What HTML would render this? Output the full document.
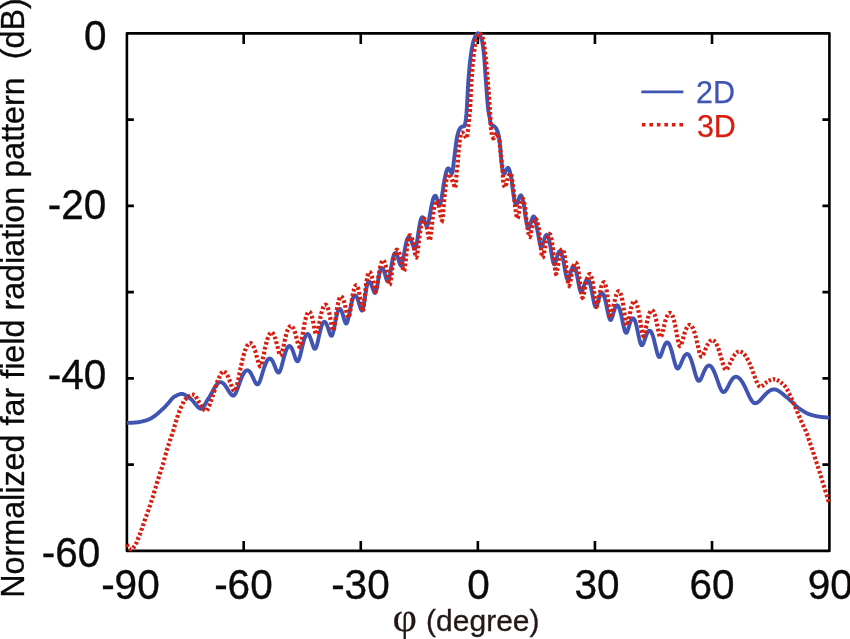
<!DOCTYPE html>
<html><head><meta charset="utf-8"><title>Far field radiation pattern</title>
<style>
html,body{margin:0;padding:0;background:#fff;}
body{width:850px;height:639px;overflow:hidden;}
svg{display:block;will-change:transform;}
text{font-family:"Liberation Sans",sans-serif;fill:#231815;}
.tk text{font-size:40.5px;fill:#0c0a09;stroke:#0c0a09;stroke-width:0.35px;}
.ttl{font-size:32.3px;fill:#0c0a09;stroke:#0c0a09;stroke-width:0.3px;}
</style></head><body>
<svg width="850" height="639" viewBox="0 0 850 639">
<rect x="0" y="0" width="850" height="639" fill="#fff"/>
<g fill="none" stroke="#000" stroke-width="2.6">
<rect x="126.9" y="33.4" width="702.50" height="517.50" stroke-linejoin="round"/>
<path d="M243.68,33.40V43.90M243.68,550.90V541.00M126.90,119.65H133.90M829.40,119.65H822.40M360.77,33.40V43.90M360.77,550.90V541.00M126.90,205.90H133.90M829.40,205.90H822.40M477.85,33.40V43.90M477.85,550.90V541.00M126.90,292.15H133.90M829.40,292.15H822.40M594.93,33.40V43.90M594.93,550.90V541.00M126.90,378.40H133.90M829.40,378.40H822.40M712.02,33.40V43.90M712.02,550.90V541.00M126.90,464.65H133.90M829.40,464.65H822.40"/>
</g>
<path d="M126.9,422.9 L127.4,422.9 L127.9,422.9 L128.4,422.9 L128.9,422.9 L129.4,422.9 L129.9,422.8 L130.4,422.8 L130.9,422.8 L131.4,422.8 L131.9,422.7 L132.4,422.7 L132.9,422.7 L133.4,422.6 L133.9,422.6 L134.4,422.6 L134.9,422.5 L135.4,422.5 L135.9,422.5 L136.4,422.4 L136.9,422.4 L137.4,422.3 L137.9,422.2 L138.4,422.2 L138.9,422.1 L139.4,422.0 L139.9,421.9 L140.4,421.8 L140.9,421.7 L141.4,421.6 L141.9,421.5 L142.4,421.4 L142.9,421.3 L143.4,421.1 L143.9,421.0 L144.4,420.9 L144.9,420.8 L145.4,420.6 L145.9,420.5 L146.4,420.3 L146.9,420.2 L147.4,420.0 L147.9,419.8 L148.4,419.6 L148.9,419.4 L149.4,419.1 L149.9,418.9 L150.4,418.7 L150.9,418.4 L151.4,418.1 L151.9,417.8 L152.4,417.5 L152.9,417.2 L153.4,416.8 L153.9,416.5 L154.4,416.2 L154.9,415.8 L155.4,415.4 L155.9,415.0 L156.4,414.6 L156.9,414.2 L157.4,413.8 L157.9,413.4 L158.4,412.9 L158.9,412.5 L159.4,412.1 L159.9,411.6 L160.4,411.2 L160.9,410.7 L161.4,410.2 L161.9,409.7 L162.4,409.3 L162.9,408.8 L163.4,408.3 L163.9,407.8 L164.4,407.3 L164.9,406.8 L165.4,406.3 L165.9,405.8 L166.4,405.3 L166.9,404.7 L167.4,404.2 L167.9,403.7 L168.4,403.1 L168.9,402.5 L169.4,401.9 L169.9,401.3 L170.4,400.6 L170.9,400.0 L171.4,399.4 L171.9,398.8 L172.4,398.3 L172.9,397.8 L173.4,397.4 L173.9,397.0 L174.4,396.7 L174.9,396.4 L175.4,396.1 L175.9,395.9 L176.4,395.6 L176.9,395.3 L177.4,395.1 L177.9,394.9 L178.4,394.7 L178.9,394.5 L179.4,394.3 L179.9,394.2 L180.4,394.0 L180.9,394.0 L181.4,393.9 L181.9,393.9 L182.4,393.9 L182.9,394.0 L183.4,394.2 L183.9,394.3 L184.4,394.6 L184.9,394.8 L185.4,395.1 L185.9,395.4 L186.4,395.7 L186.9,396.1 L187.4,396.4 L187.9,396.8 L188.4,397.2 L188.9,397.6 L189.4,397.9 L189.9,398.3 L190.4,398.7 L190.9,399.0 L191.4,399.4 L191.9,399.9 L192.4,400.4 L192.9,401.0 L193.4,401.6 L193.9,402.2 L194.4,402.8 L194.9,403.5 L195.4,404.1 L195.9,404.7 L196.4,405.3 L196.9,405.9 L197.4,406.5 L197.9,407.0 L198.4,407.5 L198.9,407.9 L199.4,408.2 L199.9,408.5 L200.4,408.7 L200.9,408.8 L201.4,408.8 L201.9,408.6 L202.4,408.3 L202.9,407.8 L203.4,407.1 L203.9,406.4 L204.4,405.6 L204.9,404.7 L205.4,403.7 L205.9,402.8 L206.4,401.8 L206.9,400.9 L207.4,400.0 L207.9,399.2 L208.4,398.5 L208.9,397.8 L209.4,397.0 L209.9,396.1 L210.4,395.3 L210.9,394.4 L211.4,393.5 L211.9,392.6 L212.4,391.6 L212.9,390.7 L213.4,389.8 L213.9,388.9 L214.4,388.1 L214.9,387.2 L215.4,386.4 L215.9,385.7 L216.4,385.0 L216.9,384.3 L217.4,383.8 L217.9,383.3 L218.4,382.9 L218.9,382.5 L219.4,382.3 L219.9,382.1 L220.4,382.1 L220.9,382.2 L221.4,382.3 L221.9,382.5 L222.4,382.8 L222.9,383.1 L223.4,383.5 L223.9,384.0 L224.4,384.6 L224.9,385.2 L225.4,385.8 L225.9,386.5 L226.4,387.3 L226.9,388.1 L227.4,388.9 L227.9,389.7 L228.4,390.6 L228.9,391.4 L229.4,392.2 L229.9,392.9 L230.4,393.6 L230.9,394.2 L231.4,394.7 L231.9,395.1 L232.4,395.4 L232.9,395.6 L233.4,395.6 L233.9,395.4 L234.4,395.0 L234.9,394.4 L235.4,393.6 L235.9,392.7 L236.4,391.6 L236.9,390.4 L237.4,389.1 L237.9,387.8 L238.4,386.4 L238.9,385.0 L239.4,383.6 L239.9,382.2 L240.4,380.8 L240.9,379.5 L241.4,378.2 L241.9,377.0 L242.4,375.9 L242.9,374.9 L243.4,373.9 L243.9,373.1 L244.4,372.4 L244.9,371.7 L245.4,371.2 L245.9,370.8 L246.4,370.5 L246.9,370.4 L247.4,370.3 L247.9,370.4 L248.4,370.6 L248.9,370.9 L249.4,371.3 L249.9,371.9 L250.4,372.6 L250.9,373.4 L251.4,374.3 L251.9,375.3 L252.4,376.3 L252.9,377.4 L253.4,378.5 L253.9,379.6 L254.4,380.7 L254.9,381.7 L255.4,382.6 L255.9,383.4 L256.4,383.9 L256.9,384.3 L257.4,384.4 L257.9,384.3 L258.4,383.8 L258.9,383.1 L259.4,382.2 L259.9,381.0 L260.4,379.7 L260.9,378.2 L261.4,376.6 L261.9,375.0 L262.4,373.3 L262.9,371.7 L263.4,370.0 L263.9,368.4 L264.4,366.9 L264.9,365.5 L265.4,364.2 L265.9,363.0 L266.4,361.9 L266.9,360.9 L267.4,360.2 L267.9,359.5 L268.4,359.0 L268.9,358.7 L269.4,358.5 L269.9,358.5 L270.4,358.7 L270.9,359.0 L271.4,359.5 L271.9,360.1 L272.4,360.9 L272.9,361.8 L273.4,362.9 L273.9,364.0 L274.4,365.2 L274.9,366.5 L275.4,367.8 L275.9,369.0 L276.4,370.1 L276.9,371.1 L277.4,371.9 L277.9,372.4 L278.4,372.6 L278.9,372.5 L279.4,372.0 L279.9,371.2 L280.4,370.0 L280.9,368.6 L281.4,367.0 L281.9,365.2 L282.4,363.3 L282.9,361.3 L283.4,359.4 L283.9,357.5 L284.4,355.7 L284.9,354.0 L285.4,352.4 L285.9,350.9 L286.4,349.7 L286.9,348.6 L287.4,347.6 L287.9,346.9 L288.4,346.4 L288.9,346.1 L289.4,346.0 L289.9,346.1 L290.4,346.4 L290.9,347.0 L291.4,347.7 L291.9,348.6 L292.4,349.7 L292.9,351.0 L293.4,352.4 L293.9,353.8 L294.4,355.3 L294.9,356.8 L295.4,358.2 L295.9,359.4 L296.4,360.4 L296.9,361.0 L297.4,361.3 L297.9,361.2 L298.4,360.6 L298.9,359.6 L299.4,358.2 L299.9,356.6 L300.4,354.7 L300.9,352.6 L301.4,350.5 L301.9,348.4 L302.4,346.2 L302.9,344.2 L303.4,342.3 L303.9,340.5 L304.4,338.9 L304.9,337.5 L305.4,336.4 L305.9,335.4 L306.4,334.7 L306.9,334.2 L307.4,334.0 L307.9,334.0 L308.4,334.3 L308.9,334.9 L309.4,335.6 L309.9,336.7 L310.4,337.9 L310.9,339.3 L311.4,340.8 L311.9,342.4 L312.4,344.0 L312.9,345.6 L313.4,346.9 L313.9,348.0 L314.4,348.7 L314.9,348.9 L315.4,348.6 L315.9,347.9 L316.4,346.7 L316.9,345.1 L317.4,343.3 L317.9,341.2 L318.4,339.0 L318.9,336.7 L319.4,334.4 L319.9,332.3 L320.4,330.2 L320.9,328.3 L321.4,326.7 L321.9,325.2 L322.4,324.0 L322.9,323.0 L323.4,322.4 L323.9,321.9 L324.4,321.8 L324.9,321.9 L325.4,322.3 L325.9,323.0 L326.4,323.8 L326.9,324.9 L327.4,326.2 L327.9,327.6 L328.4,329.2 L328.9,330.8 L329.4,332.3 L329.9,333.7 L330.4,334.8 L330.9,335.6 L331.4,335.9 L331.9,335.7 L332.4,334.8 L332.9,333.4 L333.4,331.4 L333.9,329.1 L334.4,326.6 L334.9,324.0 L335.4,321.4 L335.9,318.8 L336.4,316.5 L336.9,314.5 L337.4,312.7 L337.9,311.2 L338.4,310.1 L338.9,309.3 L339.4,308.9 L339.9,308.8 L340.4,309.1 L340.9,309.7 L341.4,310.6 L341.9,311.8 L342.4,313.3 L342.9,314.9 L343.4,316.6 L343.9,318.4 L344.4,320.2 L344.9,321.6 L345.4,322.8 L345.9,323.4 L346.4,323.5 L346.9,322.9 L347.4,321.8 L347.9,320.2 L348.4,318.1 L348.9,315.8 L349.4,313.4 L349.9,310.8 L350.4,308.3 L350.9,305.9 L351.4,303.6 L351.9,301.5 L352.4,299.7 L352.9,298.2 L353.4,297.0 L353.9,296.1 L354.4,295.5 L354.9,295.3 L355.4,295.4 L355.9,295.8 L356.4,296.4 L356.9,297.3 L357.4,298.4 L357.9,299.8 L358.4,301.3 L358.9,303.0 L359.4,304.7 L359.9,306.4 L360.4,307.9 L360.9,309.2 L361.4,310.1 L361.9,310.6 L362.4,310.4 L362.9,309.3 L363.4,307.2 L363.9,304.5 L364.4,301.3 L364.9,297.9 L365.4,294.5 L365.9,291.4 L366.4,288.5 L366.9,286.0 L367.4,284.1 L367.9,282.7 L368.4,281.8 L368.9,281.5 L369.4,281.6 L369.9,282.1 L370.4,282.7 L370.9,283.6 L371.4,284.8 L371.9,286.1 L372.4,287.6 L372.9,289.0 L373.4,290.4 L373.9,291.6 L374.4,292.5 L374.9,293.0 L375.4,292.8 L375.9,291.8 L376.4,290.0 L376.9,287.6 L377.4,284.8 L377.9,281.9 L378.4,278.9 L378.9,276.2 L379.4,273.7 L379.9,271.6 L380.4,270.0 L380.9,268.8 L381.4,268.2 L381.9,268.0 L382.4,268.2 L382.9,268.8 L383.4,269.7 L383.9,270.9 L384.4,272.4 L384.9,274.0 L385.4,275.8 L385.9,277.6 L386.4,279.2 L386.9,280.4 L387.4,281.2 L387.9,281.4 L388.4,280.8 L388.9,279.4 L389.4,277.4 L389.9,274.8 L390.4,271.9 L390.9,268.9 L391.4,266.0 L391.9,263.1 L392.4,260.5 L392.9,258.2 L393.4,256.3 L393.9,254.8 L394.4,253.8 L394.9,253.1 L395.4,253.0 L395.9,253.3 L396.4,253.9 L396.9,254.8 L397.4,256.0 L397.9,257.5 L398.4,259.2 L398.9,260.9 L399.4,262.6 L399.9,264.0 L400.4,265.0 L400.9,265.5 L401.4,265.2 L401.9,264.2 L402.4,262.5 L402.9,260.3 L403.4,257.6 L403.9,254.7 L404.4,251.8 L404.9,249.0 L405.4,246.3 L405.9,243.9 L406.4,241.8 L406.9,240.0 L407.4,238.7 L407.9,237.8 L408.4,237.3 L408.9,237.2 L409.4,237.5 L409.9,238.0 L410.4,238.7 L410.9,239.7 L411.4,241.0 L411.9,242.3 L412.4,243.8 L412.9,245.2 L413.4,246.6 L413.9,247.8 L414.4,248.5 L414.9,248.9 L415.4,248.6 L415.9,247.3 L416.4,245.2 L416.9,242.4 L417.4,239.2 L417.9,235.8 L418.4,232.4 L418.9,229.1 L419.4,226.0 L419.9,223.3 L420.4,221.1 L420.9,219.3 L421.4,218.1 L421.9,217.4 L422.4,217.2 L422.9,217.5 L423.4,218.2 L423.9,219.2 L424.4,220.5 L424.9,222.0 L425.4,223.6 L425.9,224.9 L426.4,225.8 L426.9,226.0 L427.4,225.5 L427.9,224.3 L428.4,222.5 L428.9,220.2 L429.4,217.6 L429.9,214.8 L430.4,212.0 L430.9,209.1 L431.4,206.4 L431.9,204.0 L432.4,201.7 L432.9,199.8 L433.4,198.2 L433.9,197.0 L434.4,196.2 L434.9,195.8 L435.4,195.7 L435.9,196.2 L436.4,197.2 L436.9,198.6 L437.4,200.3 L437.9,202.2 L438.4,203.9 L438.9,205.0 L439.4,205.3 L439.9,204.7 L440.4,203.5 L440.9,201.6 L441.4,199.1 L441.9,196.2 L442.4,193.1 L442.9,189.9 L443.4,186.6 L443.9,183.4 L444.4,180.4 L444.9,177.7 L445.4,175.2 L445.9,173.1 L446.4,171.3 L446.9,169.9 L447.4,169.0 L447.9,168.4 L448.4,168.3 L448.9,168.6 L449.4,169.2 L449.9,170.2 L450.4,171.3 L450.9,172.5 L451.4,173.3 L451.9,173.5 L452.4,172.1 L452.9,169.2 L453.4,165.3 L453.9,160.9 L454.4,156.4 L454.9,152.4 L455.4,148.5 L455.9,144.3 L456.4,140.6 L456.9,137.7 L457.4,135.5 L457.9,133.5 L458.4,131.8 L458.9,130.4 L459.4,129.4 L459.9,128.6 L460.4,127.9 L460.9,127.3 L461.4,127.0 L461.9,126.7 L462.4,126.6 L462.9,126.5 L463.4,126.4 L463.9,126.3 L464.4,126.0 L464.9,124.7 L465.4,122.0 L465.9,118.7 L466.4,113.7 L466.9,107.1 L467.4,97.7 L467.9,87.8 L468.4,80.0 L468.9,73.8 L469.4,68.1 L469.9,62.9 L470.4,58.4 L470.9,54.6 L471.4,51.3 L471.9,48.2 L472.4,45.5 L472.9,43.1 L473.4,41.1 L473.9,39.6 L474.4,38.4 L474.9,37.3 L475.4,36.2 L475.9,35.3 L476.4,34.5 L476.9,33.9 L477.4,33.4 L477.9,33.2 L478.4,33.3 L478.9,33.6 L479.4,34.2 L479.9,35.1 L480.4,36.1 L480.9,37.4 L481.4,38.7 L481.9,40.3 L482.4,42.7 L482.9,45.9 L483.4,49.8 L483.9,54.1 L484.4,59.9 L484.9,67.0 L485.4,74.4 L485.9,81.3 L486.4,87.9 L486.9,94.6 L487.4,101.0 L487.9,106.6 L488.4,111.0 L488.9,114.0 L489.4,116.4 L489.9,119.1 L490.4,122.9 L490.9,124.4 L491.4,124.9 L491.9,125.2 L492.4,125.4 L492.9,125.6 L493.4,125.8 L493.9,126.1 L494.4,126.4 L494.9,126.9 L495.4,127.5 L495.9,128.1 L496.4,128.9 L496.9,129.9 L497.4,130.9 L497.9,132.4 L498.4,134.3 L498.9,136.6 L499.4,139.5 L499.9,143.6 L500.4,148.7 L500.9,155.8 L501.4,161.5 L501.9,165.9 L502.4,169.0 L502.9,171.6 L503.4,173.5 L503.9,174.1 L504.4,173.7 L504.9,172.9 L505.4,171.8 L505.9,170.6 L506.4,169.5 L506.9,168.7 L507.4,168.1 L507.9,167.8 L508.4,167.9 L508.9,168.7 L509.4,170.0 L509.9,171.8 L510.4,173.9 L510.9,176.2 L511.4,178.7 L511.9,182.4 L512.4,186.7 L512.9,190.5 L513.4,194.5 L513.9,197.8 L514.4,200.0 L514.9,201.9 L515.4,203.5 L515.9,204.5 L516.4,204.8 L516.9,204.3 L517.4,203.1 L517.9,201.6 L518.4,200.0 L518.9,198.4 L519.4,197.1 L519.9,196.1 L520.4,195.5 L520.9,195.3 L521.4,195.7 L521.9,196.8 L522.4,198.4 L522.9,200.4 L523.4,202.8 L523.9,205.2 L524.4,208.1 L524.9,212.3 L525.4,216.2 L525.9,219.0 L526.4,221.7 L526.9,224.3 L527.4,226.4 L527.9,227.9 L528.4,228.6 L528.9,228.4 L529.4,227.5 L529.9,226.0 L530.4,224.3 L530.9,222.5 L531.4,220.7 L531.9,219.2 L532.4,217.9 L532.9,217.0 L533.4,216.5 L533.9,216.4 L534.4,217.1 L534.9,218.5 L535.4,220.4 L535.9,222.8 L536.4,225.4 L536.9,227.9 L537.4,230.3 L537.9,232.6 L538.4,235.3 L538.9,238.2 L539.4,241.2 L539.9,243.8 L540.4,245.9 L540.9,247.2 L541.4,247.3 L541.9,246.7 L542.4,245.6 L542.9,244.0 L543.4,242.2 L543.9,240.5 L544.4,238.8 L544.9,237.3 L545.4,236.1 L545.9,235.3 L546.4,234.8 L546.9,234.7 L547.4,235.1 L547.9,235.9 L548.4,237.2 L548.9,238.9 L549.4,241.1 L549.9,243.6 L550.4,246.4 L550.9,249.5 L551.4,252.6 L551.9,255.7 L552.4,258.6 L552.9,261.1 L553.4,263.0 L553.9,264.1 L554.4,264.4 L554.9,263.9 L555.4,262.7 L555.9,261.2 L556.4,259.3 L556.9,257.4 L557.4,255.6 L557.9,254.1 L558.4,252.8 L558.9,251.9 L559.4,251.4 L559.9,251.3 L560.4,251.6 L560.9,252.3 L561.4,253.3 L561.9,254.8 L562.4,256.6 L562.9,258.7 L563.4,261.1 L563.9,263.7 L564.4,266.5 L564.9,269.3 L565.4,272.1 L565.9,274.6 L566.4,276.8 L566.9,278.5 L567.4,279.5 L567.9,279.9 L568.4,279.6 L568.9,278.6 L569.4,277.1 L569.9,275.3 L570.4,273.4 L570.9,271.5 L571.4,269.9 L571.9,268.5 L572.4,267.4 L572.9,266.7 L573.4,266.3 L573.9,266.4 L574.4,266.8 L574.9,267.7 L575.4,268.9 L575.9,270.5 L576.4,272.5 L576.9,274.8 L577.4,277.2 L577.9,279.9 L578.4,282.6 L578.9,285.2 L579.4,287.6 L579.9,289.6 L580.4,291.1 L580.9,291.9 L581.4,292.0 L581.9,291.5 L582.4,290.6 L582.9,289.3 L583.4,287.8 L583.9,286.2 L584.4,284.6 L584.9,283.2 L585.4,281.9 L585.9,280.8 L586.4,280.0 L586.9,279.5 L587.4,279.2 L587.9,279.3 L588.4,279.7 L588.9,280.5 L589.4,281.6 L589.9,283.1 L590.4,284.9 L590.9,287.0 L591.4,289.3 L591.9,291.8 L592.4,294.5 L592.9,297.2 L593.4,299.8 L593.9,302.1 L594.4,304.2 L594.9,305.8 L595.4,306.8 L595.9,307.1 L596.4,306.8 L596.9,305.8 L597.4,304.3 L597.9,302.5 L598.4,300.6 L598.9,298.8 L599.4,297.0 L599.9,295.5 L600.4,294.4 L600.9,293.5 L601.4,293.0 L601.9,292.9 L602.4,293.1 L602.9,293.7 L603.4,294.5 L603.9,295.7 L604.4,297.2 L604.9,298.9 L605.4,300.9 L605.9,303.0 L606.4,305.4 L606.9,307.8 L607.4,310.3 L607.9,312.6 L608.4,314.9 L608.9,316.8 L609.4,318.3 L609.9,319.4 L610.4,320.0 L610.9,319.9 L611.4,319.3 L611.9,318.1 L612.4,316.7 L612.9,314.9 L613.4,313.1 L613.9,311.4 L614.4,309.8 L614.9,308.3 L615.4,307.1 L615.9,306.2 L616.4,305.6 L616.9,305.3 L617.4,305.4 L617.9,305.7 L618.4,306.3 L618.9,307.3 L619.4,308.5 L619.9,310.0 L620.4,311.8 L620.9,313.7 L621.4,315.9 L621.9,318.2 L622.4,320.6 L622.9,323.0 L623.4,325.4 L623.9,327.6 L624.4,329.5 L624.9,331.1 L625.4,332.2 L625.9,332.8 L626.4,332.9 L626.9,332.4 L627.4,331.4 L627.9,330.0 L628.4,328.4 L628.9,326.7 L629.4,325.0 L629.9,323.3 L630.4,321.8 L630.9,320.6 L631.4,319.5 L631.9,318.8 L632.4,318.4 L632.9,318.2 L633.4,318.4 L633.9,318.8 L634.4,319.6 L634.9,320.7 L635.4,322.1 L635.9,323.7 L636.4,325.6 L636.9,327.7 L637.4,330.0 L637.9,332.3 L638.4,334.8 L638.9,337.2 L639.4,339.4 L639.9,341.4 L640.4,343.1 L640.9,344.4 L641.4,345.1 L641.9,345.3 L642.4,345.0 L642.9,344.3 L643.4,343.4 L643.9,342.1 L644.4,340.7 L644.9,339.2 L645.4,337.7 L645.9,336.3 L646.4,334.9 L646.9,333.7 L647.4,332.7 L647.9,331.9 L648.4,331.2 L648.9,330.8 L649.4,330.6 L649.9,330.6 L650.4,330.9 L650.9,331.5 L651.4,332.2 L651.9,333.3 L652.4,334.5 L652.9,336.0 L653.4,337.6 L653.9,339.5 L654.4,341.5 L654.9,343.6 L655.4,345.7 L655.9,347.8 L656.4,349.9 L656.9,351.9 L657.4,353.6 L657.9,355.1 L658.4,356.2 L658.9,356.9 L659.4,357.1 L659.9,356.9 L660.4,356.3 L660.9,355.3 L661.4,354.1 L661.9,352.7 L662.4,351.2 L662.9,349.7 L663.4,348.2 L663.9,346.9 L664.4,345.6 L664.9,344.6 L665.4,343.7 L665.9,343.1 L666.4,342.6 L666.9,342.4 L667.4,342.4 L667.9,342.7 L668.4,343.1 L668.9,343.8 L669.4,344.7 L669.9,345.8 L670.4,347.0 L670.9,348.5 L671.4,350.1 L671.9,351.8 L672.4,353.7 L672.9,355.6 L673.4,357.6 L673.9,359.6 L674.4,361.5 L674.9,363.3 L675.4,364.9 L675.9,366.3 L676.4,367.4 L676.9,368.1 L677.4,368.5 L677.9,368.5 L678.4,368.2 L678.9,367.6 L679.4,366.8 L679.9,365.9 L680.4,364.8 L680.9,363.7 L681.4,362.5 L681.9,361.2 L682.4,360.1 L682.9,358.9 L683.4,357.9 L683.9,356.9 L684.4,356.1 L684.9,355.4 L685.4,354.9 L685.9,354.4 L686.4,354.1 L686.9,354.0 L687.4,354.0 L687.9,354.2 L688.4,354.6 L688.9,355.2 L689.4,355.9 L689.9,356.8 L690.4,357.9 L690.9,359.1 L691.4,360.5 L691.9,362.0 L692.4,363.6 L692.9,365.3 L693.4,367.0 L693.9,368.9 L694.4,370.7 L694.9,372.5 L695.4,374.2 L695.9,375.9 L696.4,377.3 L696.9,378.6 L697.4,379.6 L697.9,380.4 L698.4,380.8 L698.9,380.9 L699.4,380.7 L699.9,380.3 L700.4,379.6 L700.9,378.8 L701.4,377.8 L701.9,376.7 L702.4,375.5 L702.9,374.3 L703.4,373.1 L703.9,371.9 L704.4,370.8 L704.9,369.8 L705.4,368.8 L705.9,368.0 L706.4,367.2 L706.9,366.6 L707.4,366.1 L707.9,365.8 L708.4,365.6 L708.9,365.5 L709.4,365.6 L709.9,365.7 L710.4,366.0 L710.9,366.4 L711.4,366.9 L711.9,367.6 L712.4,368.3 L712.9,369.1 L713.4,370.1 L713.9,371.1 L714.4,372.2 L714.9,373.4 L715.4,374.7 L715.9,376.0 L716.4,377.4 L716.9,378.8 L717.4,380.2 L717.9,381.7 L718.4,383.1 L718.9,384.5 L719.4,385.9 L719.9,387.2 L720.4,388.3 L720.9,389.4 L721.4,390.3 L721.9,391.0 L722.4,391.6 L722.9,391.9 L723.4,392.1 L723.9,392.0 L724.4,391.8 L724.9,391.5 L725.4,390.9 L725.9,390.3 L726.4,389.5 L726.9,388.7 L727.4,387.8 L727.9,386.8 L728.4,385.8 L728.9,384.9 L729.4,383.9 L729.9,382.9 L730.4,382.0 L730.9,381.2 L731.4,380.4 L731.9,379.7 L732.4,379.0 L732.9,378.4 L733.4,377.9 L733.9,377.5 L734.4,377.2 L734.9,377.0 L735.4,376.8 L735.9,376.8 L736.4,376.8 L736.9,376.9 L737.4,377.1 L737.9,377.3 L738.4,377.6 L738.9,378.0 L739.4,378.4 L739.9,378.9 L740.4,379.5 L740.9,380.1 L741.4,380.8 L741.9,381.5 L742.4,382.3 L742.9,383.1 L743.4,384.0 L743.9,384.9 L744.4,385.9 L744.9,386.9 L745.4,387.9 L745.9,389.0 L746.4,390.1 L746.9,391.2 L747.4,392.3 L747.9,393.4 L748.4,394.5 L748.9,395.5 L749.4,396.6 L749.9,397.6 L750.4,398.5 L750.9,399.4 L751.4,400.2 L751.9,401.0 L752.4,401.6 L752.9,402.1 L753.4,402.6 L753.9,402.9 L754.4,403.1 L754.9,403.2 L755.4,403.2 L755.9,403.1 L756.4,403.0 L756.9,402.7 L757.4,402.5 L757.9,402.2 L758.4,401.8 L758.9,401.4 L759.4,400.9 L759.9,400.5 L760.4,399.9 L760.9,399.4 L761.4,398.9 L761.9,398.3 L762.4,397.7 L762.9,397.1 L763.4,396.6 L763.9,396.0 L764.4,395.4 L764.9,394.9 L765.4,394.4 L765.9,393.8 L766.4,393.3 L766.9,392.9 L767.4,392.4 L767.9,392.0 L768.4,391.6 L768.9,391.3 L769.4,390.9 L769.9,390.6 L770.4,390.3 L770.9,390.1 L771.4,389.9 L771.9,389.7 L772.4,389.6 L772.9,389.5 L773.4,389.4 L773.9,389.4 L774.4,389.4 L774.9,389.5 L775.4,389.5 L775.9,389.7 L776.4,389.8 L776.9,390.0 L777.4,390.3 L777.9,390.5 L778.4,390.8 L778.9,391.1 L779.4,391.4 L779.9,391.8 L780.4,392.1 L780.9,392.5 L781.4,392.9 L781.9,393.3 L782.4,393.7 L782.9,394.1 L783.4,394.6 L783.9,395.0 L784.4,395.4 L784.9,395.8 L785.4,396.3 L785.9,396.7 L786.4,397.1 L786.9,397.4 L787.4,397.8 L787.9,398.2 L788.4,398.6 L788.9,399.1 L789.4,399.5 L789.9,400.0 L790.4,400.5 L790.9,400.9 L791.4,401.4 L791.9,401.9 L792.4,402.4 L792.9,402.9 L793.4,403.4 L793.9,403.9 L794.4,404.4 L794.9,404.9 L795.4,405.4 L795.9,405.8 L796.4,406.3 L796.9,406.7 L797.4,407.1 L797.9,407.5 L798.4,407.9 L798.9,408.3 L799.4,408.6 L799.9,409.0 L800.4,409.3 L800.9,409.6 L801.4,410.0 L801.9,410.3 L802.4,410.6 L802.9,410.9 L803.4,411.2 L803.9,411.5 L804.4,411.8 L804.9,412.1 L805.4,412.4 L805.9,412.7 L806.4,413.0 L806.9,413.2 L807.4,413.5 L807.9,413.7 L808.4,413.9 L808.9,414.1 L809.4,414.3 L809.9,414.5 L810.4,414.6 L810.9,414.8 L811.4,414.9 L811.9,415.1 L812.4,415.2 L812.9,415.3 L813.4,415.5 L813.9,415.6 L814.4,415.7 L814.9,415.8 L815.4,416.0 L815.9,416.1 L816.4,416.2 L816.9,416.3 L817.4,416.4 L817.9,416.5 L818.4,416.5 L818.9,416.6 L819.4,416.7 L819.9,416.8 L820.4,416.9 L820.9,416.9 L821.4,417.0 L821.9,417.0 L822.4,417.1 L822.9,417.2 L823.4,417.2 L823.9,417.2 L824.4,417.3 L824.9,417.3 L825.4,417.4 L825.9,417.4 L826.4,417.5 L826.9,417.5 L827.4,417.5 L827.9,417.5 L828.4,417.6 L828.9,417.6 L829.4,417.6" fill="none" stroke="#4055b1" stroke-width="3.9" stroke-linejoin="round"/>
<path d="M126.9,544.5L127.2,545.1L127.5,545.7L127.8,546.3L128.1,546.9M129.4,548.5L129.9,548.9L130.4,549.2L131.0,549.4L131.5,549.3M133.1,548.1L133.5,547.6L133.9,547.1L134.2,546.5L134.6,546.0M135.7,544.2L136.0,543.6L136.3,543.0L136.6,542.4L136.8,541.8M137.7,539.8L137.9,539.1L138.2,538.5L138.4,537.8L138.7,537.2M139.4,535.2L139.7,534.6L139.9,533.9L140.2,533.3L140.4,532.6M141.2,530.6L141.4,530.0L141.6,529.3L141.9,528.7L142.1,528.0M142.8,526.0L143.0,525.3L143.2,524.7L143.5,524.0L143.7,523.3M144.4,521.3L144.6,520.6L144.8,520.0L145.1,519.3L145.3,518.7M146.0,516.7L146.3,516.0L146.5,515.4L146.7,514.7L146.9,514.1M147.7,512.0L147.9,511.4L148.1,510.7L148.4,510.1L148.6,509.4M149.3,507.4L149.5,506.7L149.8,506.1L150.0,505.4L150.2,504.8M150.9,502.7L151.1,502.1L151.3,501.4L151.6,500.7L151.8,500.1M152.4,498.0L152.6,497.4L152.8,496.7L153.1,496.0L153.3,495.4M153.9,493.3L154.1,492.6L154.3,492.0L154.5,491.3L154.7,490.6M155.3,488.5L155.5,487.9L155.7,487.2L155.9,486.6L156.1,485.9M156.7,483.8L156.9,483.1L157.1,482.5L157.3,481.8L157.5,481.1M158.2,479.1L158.4,478.4L158.6,477.8L158.8,477.1L159.0,476.4M159.7,474.4L159.9,473.7L160.1,473.0L160.3,472.4L160.5,471.7M161.2,469.7L161.4,469.0L161.6,468.3L161.8,467.7L162.0,467.0M162.6,464.9L162.9,464.3L163.1,463.6L163.2,462.9L163.4,462.3M164.0,460.2L164.2,459.5L164.4,458.8L164.6,458.2L164.8,457.5M165.3,455.4L165.5,454.7L165.7,454.1L165.9,453.4L166.1,452.7M166.7,450.6L166.9,449.9L167.1,449.3L167.3,448.6L167.5,448.0M168.1,445.9L168.4,445.2L168.6,444.6L168.8,443.9L169.0,443.3M169.7,441.2L169.9,440.6L170.2,439.9L170.4,439.3L170.6,438.6M171.3,436.6L171.5,435.9L171.8,435.2L172.0,434.6L172.2,433.9M172.9,431.9L173.1,431.2L173.3,430.6L173.5,429.9L173.7,429.2M174.3,427.1L174.5,426.5L174.7,425.8L174.9,425.1L175.1,424.5M175.7,422.4L175.9,421.7L176.1,421.1L176.3,420.4L176.5,419.7M177.1,417.6L177.3,417.0L177.6,416.3L177.8,415.7L178.0,415.0M178.8,413.0L179.0,412.4L179.3,411.7L179.5,411.1L179.8,410.5M180.6,408.5L180.9,407.8L181.1,407.2L181.4,406.6L181.7,406.0M182.5,404.0L182.8,403.4L183.1,402.8L183.5,402.2L183.8,401.6M184.9,399.9L185.3,399.4L185.8,398.9L186.3,398.5L186.7,398.1M188.3,396.9L188.8,396.5L189.3,396.2L189.8,395.9L190.4,395.6M192.1,394.9L192.7,394.8L193.3,394.7L193.9,394.8L194.4,395.0M195.8,396.5L196.1,397.1L196.5,397.6L196.8,398.2L197.2,398.8M198.2,400.6L198.5,401.2L198.9,401.8L199.2,402.4L199.6,402.9M200.8,404.6L201.1,405.2L201.5,405.7L201.8,406.3L202.2,406.9M203.3,408.6L203.7,409.2L204.1,409.7L204.5,410.1L205.0,410.5M206.8,410.4L207.2,409.9L207.6,409.4L207.9,408.8L208.2,408.2M209.0,406.2L209.3,405.6L209.5,404.9L209.8,404.3L210.0,403.6M210.7,401.6L210.9,400.9L211.1,400.3L211.4,399.6L211.6,399.0M212.3,396.9L212.5,396.3L212.8,395.6L213.0,395.0L213.3,394.3M213.9,392.3L214.2,391.6L214.4,391.0L214.6,390.3L214.8,389.6M215.4,387.6L215.6,386.9L215.8,386.2L216.0,385.6L216.2,384.9M216.9,382.9L217.2,382.2L217.4,381.6L217.7,381.0L218.0,380.3M218.8,378.4L219.1,377.7L219.4,377.1L219.6,376.5L219.9,375.9M220.8,374.0L221.2,373.4L221.5,372.8L221.9,372.3L222.4,371.8M224.1,371.7L224.7,372.0L225.2,372.4L225.6,372.8L226.1,373.3M227.2,375.0L227.5,375.6L227.8,376.2L228.1,376.8L228.4,377.5M229.2,379.4L229.5,380.1L229.7,380.7L229.9,381.4L230.2,382.0M230.9,384.1L231.1,384.7L231.3,385.4L231.6,386.0L231.8,386.7M232.6,388.7L232.9,389.3L233.2,389.9L233.6,390.4L234.1,390.8M235.5,389.8L235.8,389.2L236.0,388.5L236.3,387.9L236.5,387.2M237.0,385.1L237.2,384.4L237.4,383.8L237.5,383.1L237.7,382.4M238.1,380.2L238.3,379.6L238.4,378.9L238.6,378.2L238.7,377.5M239.1,375.3L239.3,374.7L239.4,374.0L239.5,373.3L239.7,372.6M240.1,370.4L240.3,369.8L240.4,369.1L240.5,368.4L240.7,367.7M241.1,365.6L241.3,364.9L241.4,364.2L241.6,363.5L241.7,362.8M242.2,360.7L242.4,360.0L242.5,359.3L242.7,358.7L242.9,358.0M243.4,355.9L243.6,355.2L243.8,354.5L244.0,353.9L244.2,353.2M244.9,351.1L245.1,350.5L245.3,349.8L245.6,349.2L245.8,348.6M246.7,346.6L247.0,346.0L247.4,345.5L247.8,344.9L248.2,344.4M249.7,343.3L250.3,343.2L250.9,343.3L251.4,343.6L251.9,344.0M253.1,345.7L253.4,346.3L253.7,347.0L254.0,347.6L254.2,348.2M254.9,350.2L255.2,350.9L255.4,351.6L255.6,352.2L255.8,352.9M256.4,355.0L256.5,355.7L256.7,356.3L256.9,357.0L257.1,357.7M257.6,359.8L257.8,360.5L258.0,361.1L258.2,361.8L258.4,362.5M259.0,364.5L259.3,365.2L259.7,365.7L260.1,366.2L260.7,366.0M261.6,364.1L261.8,363.5L262.0,362.8L262.2,362.1L262.3,361.4M262.8,359.3L262.9,358.6L263.1,357.9L263.2,357.2L263.4,356.6M263.8,354.4L263.9,353.7L264.1,353.0L264.2,352.3L264.3,351.7M264.8,349.5L264.9,348.8L265.1,348.1L265.2,347.5L265.4,346.8M265.9,344.6L266.0,344.0L266.2,343.3L266.4,342.6L266.5,341.9M267.1,339.8L267.3,339.2L267.6,338.5L267.8,337.9L268.0,337.2M268.9,335.2L269.2,334.7L269.5,334.1L269.9,333.6L270.4,333.1M272.1,332.7L272.6,333.1L273.0,333.6L273.4,334.1L273.8,334.7M274.7,336.6L274.9,337.3L275.1,337.9L275.4,338.6L275.6,339.2M276.2,341.3L276.3,342.0L276.5,342.7L276.7,343.3L276.9,344.0M277.4,346.1L277.5,346.8L277.7,347.5L277.9,348.2L278.0,348.9M278.5,351.0L278.7,351.7L278.9,352.3L279.1,353.0L279.3,353.6M280.3,355.5L280.9,355.3L281.2,354.8L281.5,354.2L281.8,353.5M282.4,351.4L282.5,350.7L282.7,350.1L282.8,349.4L283.0,348.7M283.5,346.6L283.6,345.9L283.7,345.2L283.9,344.5L284.0,343.8M284.5,341.7L284.6,341.0L284.8,340.3L284.9,339.6L285.1,338.9M285.6,336.8L285.8,336.1L286.0,335.5L286.1,334.8L286.3,334.1M287.0,332.0L287.2,331.4L287.4,330.7L287.6,330.1L287.9,329.5M288.9,327.6L289.3,327.0L289.7,326.6L290.2,326.2L290.8,326.0M292.4,326.9L292.8,327.4L293.1,327.9L293.5,328.5L293.8,329.1M294.6,331.1L294.8,331.8L295.0,332.5L295.2,333.1L295.4,333.8M296.0,335.9L296.2,336.6L296.3,337.2L296.5,337.9L296.7,338.6M297.2,340.7L297.4,341.4L297.6,342.0L297.7,342.7L297.9,343.4M298.6,345.5L298.9,346.1L299.2,346.7L299.7,347.0L300.2,346.6M300.9,344.6L301.0,343.9L301.2,343.2L301.3,342.5L301.4,341.8M301.8,339.7L301.9,339.0L302.1,338.3L302.2,337.6L302.3,336.9M302.6,334.7L302.7,334.0L302.8,333.3L303.0,332.6L303.1,331.9M303.4,329.8L303.5,329.1L303.7,328.4L303.8,327.7L303.9,327.0M304.3,324.8L304.4,324.1L304.6,323.5L304.7,322.8L304.8,322.1M305.3,319.9L305.5,319.3L305.6,318.6L305.8,317.9L306.0,317.2M306.7,315.2L306.9,314.5L307.2,313.9L307.5,313.3L307.8,312.7M309.4,311.9L309.9,312.2L310.3,312.7L310.6,313.3L310.9,313.9M311.7,315.9L311.9,316.6L312.1,317.3L312.2,317.9L312.4,318.6M312.9,320.8L313.0,321.4L313.2,322.1L313.3,322.8L313.4,323.5M313.9,325.7L314.0,326.4L314.1,327.0L314.3,327.7L314.4,328.4M314.8,330.6L315.0,331.2L315.2,331.9L315.3,332.6L315.6,333.2M316.8,333.5L317.1,332.8L317.3,332.2L317.5,331.5L317.7,330.8M318.2,328.7L318.3,328.0L318.4,327.3L318.6,326.7L318.7,326.0M319.1,323.8L319.3,323.1L319.4,322.4L319.5,321.7L319.7,321.1M320.1,318.9L320.2,318.2L320.4,317.5L320.5,316.8L320.7,316.2M321.2,314.0L321.3,313.3L321.5,312.7L321.7,312.0L321.9,311.3M322.5,309.2L322.7,308.6L323.0,308.0L323.2,307.3L323.5,306.7M324.7,305.1L325.3,304.8L325.8,304.7L326.4,305.1L326.8,305.6M327.7,307.5L327.9,308.1L328.1,308.8L328.3,309.5L328.5,310.1M329.0,312.3L329.2,312.9L329.3,313.6L329.5,314.3L329.6,315.0M330.0,317.1L330.2,317.8L330.3,318.5L330.4,319.2L330.5,319.9M330.9,322.1L331.0,322.8L331.2,323.5L331.3,324.1L331.4,324.8M331.8,327.0L332.0,327.7L332.2,328.4L332.3,329.0L332.5,329.7M333.7,329.9L333.9,329.3L334.1,328.6L334.2,327.9L334.3,327.2M334.7,325.0L334.8,324.3L334.9,323.6L335.0,322.9L335.1,322.2M335.4,320.1L335.5,319.4L335.6,318.7L335.7,318.0L335.8,317.3M336.1,315.1L336.2,314.4L336.3,313.7L336.4,313.0L336.5,312.3M336.8,310.1L336.9,309.4L337.0,308.7L337.1,308.0L337.3,307.3M337.6,305.2L337.8,304.5L337.9,303.8L338.1,303.1L338.2,302.4M338.7,300.3L338.9,299.7L339.2,299.0L339.4,298.4L339.7,297.7M341.1,296.5L341.6,296.8L342.1,297.2L342.5,297.8L342.8,298.3M343.6,300.3L343.8,301.0L344.0,301.6L344.2,302.3L344.4,303.0M345.0,305.1L345.1,305.8L345.3,306.4L345.5,307.1L345.6,307.8M346.1,309.9L346.2,310.6L346.4,311.3L346.5,312.0L346.7,312.7M347.2,314.8L347.4,315.5L347.6,316.1L347.8,316.8L348.1,317.4M349.2,316.2L349.4,315.5L349.6,314.9L349.7,314.2L349.8,313.5M350.2,311.3L350.3,310.6L350.4,309.9L350.5,309.2L350.6,308.5M350.9,306.4L351.0,305.7L351.1,305.0L351.2,304.3L351.3,303.6M351.7,301.4L351.8,300.7L351.9,300.0L352.0,299.3L352.1,298.6M352.5,296.4L352.6,295.8L352.7,295.1L352.8,294.4L353.0,293.7M353.4,291.5L353.6,290.9L353.8,290.2L353.9,289.5L354.1,288.8M354.9,286.8L355.2,286.2L355.6,285.7L356.1,285.3L356.6,285.4M357.7,287.2L358.0,287.8L358.2,288.5L358.3,289.2L358.5,289.8M359.0,292.0L359.1,292.7L359.2,293.3L359.4,294.0L359.5,294.7M359.9,296.9L360.0,297.6L360.1,298.3L360.2,299.0L360.3,299.7M360.6,301.9L360.7,302.6L360.8,303.3L360.9,303.9L361.0,304.6M361.3,306.8L361.5,307.5L361.6,308.2L361.7,308.9L361.9,309.6M362.8,311.0L363.0,310.4L363.2,309.7L363.3,309.0L363.5,308.3M363.8,306.2L363.9,305.5L363.9,304.8L364.0,304.1L364.1,303.4M364.3,301.2L364.4,300.5L364.5,299.8L364.6,299.1L364.6,298.4M364.9,296.2L364.9,295.5L365.0,294.8L365.1,294.1L365.2,293.4M365.4,291.2L365.5,290.5L365.5,289.8L365.6,289.1L365.7,288.4M366.0,286.2L366.1,285.5L366.1,284.8L366.2,284.1L366.3,283.4M366.6,281.2L366.7,280.5L366.9,279.8L367.0,279.1L367.1,278.4M367.5,276.3L367.7,275.6L367.8,274.9L368.0,274.2L368.2,273.6M369.4,272.0L370.0,272.2L370.4,272.7L370.7,273.3L371.0,273.9M371.7,276.0L371.9,276.6L372.1,277.3L372.2,278.0L372.4,278.7M372.8,280.8L373.0,281.5L373.1,282.2L373.2,282.9L373.4,283.6M373.8,285.7L373.9,286.4L374.0,287.1L374.2,287.8L374.3,288.5M374.9,290.6L375.1,291.2L375.6,291.6L376.0,291.1L376.2,290.4M376.7,288.3L376.8,287.6L376.9,286.9L377.1,286.2L377.2,285.5M377.5,283.3L377.6,282.7L377.7,282.0L377.8,281.3L377.9,280.6M378.2,278.4L378.3,277.7L378.4,277.0L378.5,276.3L378.7,275.6M379.0,273.4L379.1,272.7L379.2,272.0L379.4,271.4L379.5,270.7M379.9,268.5L380.0,267.8L380.2,267.1L380.3,266.5L380.5,265.8M381.1,263.7L381.3,263.0L381.5,262.4L381.8,261.7L382.1,261.2M383.7,260.5L384.1,261.0L384.4,261.6L384.7,262.2L384.9,262.8M385.5,264.9L385.7,265.6L385.9,266.3L386.0,267.0L386.2,267.7M386.6,269.8L386.7,270.5L386.8,271.2L386.9,271.9L387.0,272.6M387.4,274.8L387.5,275.5L387.6,276.1L387.7,276.8L387.8,277.5M388.2,279.7L388.3,280.4L388.4,281.1L388.6,281.8L388.7,282.5M389.4,284.5L389.9,284.3L390.1,283.7L390.3,283.0L390.5,282.4M390.8,280.2L390.9,279.5L391.0,278.8L391.1,278.1L391.2,277.4M391.5,275.2L391.6,274.5L391.7,273.8L391.8,273.1L391.9,272.4M392.2,270.2L392.2,269.5L392.3,268.8L392.4,268.1L392.5,267.4M392.8,265.2L392.9,264.5L393.0,263.9L393.1,263.2L393.2,262.5M393.5,260.3L393.7,259.6L393.8,258.9L393.9,258.2L394.0,257.5M394.5,255.4L394.6,254.7L394.8,254.0L394.9,253.3L395.1,252.7M395.9,250.7L396.3,250.1L396.8,249.8L397.4,249.9L397.9,250.4M398.9,252.2L399.1,252.8L399.4,253.5L399.6,254.1L399.8,254.8M400.3,256.9L400.5,257.6L400.7,258.3L400.8,258.9L401.0,259.6M401.4,261.8L401.5,262.5L401.7,263.2L401.8,263.8L402.0,264.5M402.4,266.7L402.6,267.4L402.7,268.0L402.9,268.7L403.1,269.4M404.1,271.1L404.4,270.5L404.5,269.8L404.7,269.1L404.8,268.4M405.1,266.2L405.1,265.5L405.2,264.8L405.3,264.1L405.4,263.4M405.6,261.2L405.7,260.5L405.7,259.8L405.8,259.1L405.9,258.4M406.1,256.2L406.2,255.5L406.2,254.8L406.3,254.1L406.4,253.4M406.6,251.2L406.7,250.5L406.8,249.8L406.9,249.1L406.9,248.4M407.2,246.2L407.3,245.5L407.4,244.8L407.5,244.2L407.6,243.5M407.9,241.3L408.0,240.6L408.2,239.9L408.3,239.2L408.5,238.5M409.1,236.4L409.3,235.8L409.7,235.3L410.3,235.3L410.8,235.7M411.7,237.6L411.9,238.2L412.1,238.9L412.3,239.6L412.5,240.3M413.0,242.4L413.1,243.1L413.2,243.8L413.4,244.5L413.5,245.1M413.9,247.3L414.0,248.0L414.1,248.7L414.2,249.4L414.3,250.1M414.7,252.3L414.8,252.9L415.0,253.6L415.1,254.3L415.2,255.0M415.9,257.1L416.3,257.3L416.6,256.8L416.8,256.1L417.0,255.4M417.4,253.2L417.5,252.5L417.6,251.9L417.7,251.2L417.8,250.5M418.0,248.3L418.1,247.6L418.2,246.9L418.3,246.2L418.4,245.5M418.6,243.3L418.7,242.6L418.8,241.9L418.9,241.2L419.0,240.5M419.2,238.3L419.3,237.6L419.4,236.9L419.5,236.2L419.6,235.5M419.9,233.3L420.0,232.6L420.1,231.9L420.2,231.2L420.3,230.5M420.6,228.3L420.7,227.7L420.8,227.0L421.0,226.3L421.1,225.6M421.5,223.4L421.7,222.8L421.9,222.1L422.1,221.4L422.3,220.8M423.2,218.9L423.7,218.5L424.3,218.7L424.7,219.2L425.0,219.8M425.7,221.8L425.9,222.5L426.1,223.2L426.2,223.8L426.4,224.5M426.8,226.7L426.9,227.4L427.0,228.1L427.2,228.8L427.3,229.4M427.6,231.6L427.7,232.3L427.8,233.0L428.0,233.7L428.1,234.4M428.4,236.6L428.6,237.3L428.7,237.9L428.8,238.6L429.0,239.3M430.0,239.6L430.2,238.9L430.3,238.2L430.5,237.5L430.6,236.8M430.9,234.6L430.9,233.9L431.0,233.2L431.1,232.5L431.2,231.8M431.4,229.6L431.5,228.9L431.6,228.2L431.6,227.5L431.7,226.8M431.9,224.6L432.0,223.9L432.1,223.2L432.2,222.5L432.2,221.8M432.5,219.6L432.5,218.9L432.6,218.2L432.7,217.5L432.8,216.8M433.1,214.6L433.1,213.9L433.2,213.2L433.3,212.5L433.4,211.8M433.7,209.7L433.8,209.0L434.0,208.3L434.1,207.6L434.2,206.9M434.6,204.7L434.8,204.1L435.0,203.4L435.2,202.7L435.4,202.1M436.6,200.6L437.1,201.0L437.5,201.5L437.8,202.1L438.0,202.8M438.6,204.9L438.8,205.5L438.9,206.2L439.1,206.9L439.2,207.6M439.6,209.8L439.8,210.4L439.9,211.1L440.0,211.8L440.1,212.5M440.5,214.7L440.6,215.4L440.7,216.1L440.8,216.8L440.9,217.5M441.4,219.6L441.7,220.2L442.1,220.5L442.3,219.9L442.5,219.2M442.8,217.0L442.8,216.3L442.9,215.6L443.0,214.9L443.0,214.2M443.2,212.0L443.3,211.3L443.3,210.6L443.4,209.9L443.5,209.2M443.6,207.0L443.7,206.3L443.7,205.6L443.8,204.9L443.9,204.2M444.0,202.0L444.1,201.3L444.1,200.6L444.2,199.9L444.3,199.2M444.5,197.0L444.5,196.3L444.6,195.5L444.7,194.8L444.8,194.2M445.0,192.0L445.1,191.3L445.1,190.6L445.2,189.9L445.3,189.2M445.5,186.9L445.6,186.2L445.7,185.6L445.7,184.9L445.8,184.2M446.1,182.0L446.2,181.3L446.3,180.6L446.5,179.9L446.7,179.2M447.3,177.1L447.5,176.5L447.7,175.8L448.0,175.2L448.3,174.6M449.9,174.9L450.2,175.5L450.5,176.0L450.8,176.7L451.1,177.3M451.9,179.3L452.1,179.9L452.4,180.6L452.6,181.2L452.9,181.9M453.7,183.9L453.9,184.5L454.1,185.2L454.3,185.9L454.5,186.5M455.4,187.5L455.5,186.8L455.6,186.1L455.7,185.4L455.8,184.7M455.9,182.5L456.0,181.8L456.1,181.1L456.1,180.4L456.2,179.7M456.3,177.5L456.4,176.8L456.4,176.1L456.4,175.4L456.5,174.7M456.7,172.5L456.7,171.8L456.8,171.1L456.9,170.4L457.0,169.7M457.4,167.5L457.4,166.8L457.5,166.1L457.6,165.4L457.6,164.7M457.7,162.5L457.8,161.8L457.8,161.1L457.9,160.4L457.9,159.7M458.0,157.4L458.1,156.7L458.1,156.0L458.2,155.3L458.2,154.6M458.5,152.4L458.5,151.7L458.6,151.0L458.7,150.3L458.8,149.6M459.0,147.4L459.1,146.7L459.2,146.0L459.3,145.3L459.3,144.6M459.6,142.4L459.6,141.7L459.7,141.0L459.8,140.3L459.9,139.6M460.3,137.5L460.4,136.8L460.6,136.1L460.7,135.4L460.9,134.8M461.7,132.8L462.2,132.6L462.8,132.8L463.3,133.2L463.7,133.7M464.8,135.5L465.1,136.1L465.4,136.7L465.8,137.3L466.1,137.8M467.1,136.9L467.2,136.2L467.3,135.5L467.4,134.8L467.5,134.1M467.7,131.9L467.8,131.2L467.9,130.5L468.0,129.8L468.1,129.1M468.3,126.9L468.4,126.2L468.4,125.5L468.5,124.8L468.6,124.1M468.8,121.9L468.8,121.2L468.9,120.5L469.0,119.8L469.0,119.1M469.3,116.9L469.4,116.2L469.4,115.5L469.5,114.8L469.6,114.1M469.8,111.9L469.9,111.2L469.9,110.5L470.0,109.8L470.0,109.1M470.2,106.9L470.2,106.2L470.2,105.5L470.3,104.8L470.3,104.1M470.4,101.9L470.5,101.2L470.5,100.5L470.5,99.8L470.6,99.1M470.7,96.9L470.7,96.1L470.7,95.4L470.8,94.7L470.8,94.0M470.9,91.8L470.9,91.1L471.0,90.4L471.0,89.7L471.1,89.0M471.2,86.8L471.2,86.1L471.3,85.4L471.3,84.7L471.4,84.0M471.5,81.8L471.5,81.1L471.6,80.4L471.6,79.7L471.7,79.0M471.8,76.7L471.9,76.0L471.9,75.3L472.0,74.6L472.0,73.9M472.2,71.7L472.2,71.0L472.3,70.3L472.3,69.6L472.4,68.9M472.5,66.7L472.6,66.0L472.7,65.3L472.7,64.6L472.8,63.9M473.0,61.7L473.1,61.0L473.1,60.3L473.2,59.6L473.3,58.9M473.5,56.7L473.6,56.0L473.6,55.3L473.7,54.6L473.8,53.9M474.1,51.7L474.2,51.0L474.3,50.3L474.4,49.6L474.5,48.9M474.8,46.7L474.9,46.0L475.0,45.3L475.1,44.6L475.2,44.0M475.7,41.8L475.8,41.1L476.0,40.5L476.2,39.8L476.4,39.1M477.1,37.1L477.4,36.4L477.6,35.8L477.9,35.2L478.2,34.6M479.7,33.4L480.2,33.7L480.7,34.1L481.1,34.7L481.4,35.2M482.3,37.1L482.6,37.8L482.8,38.4L483.1,39.1L483.3,39.7M483.7,41.9L483.8,42.6L483.9,43.3L484.0,44.0L484.1,44.7M484.4,46.8L484.5,47.5L484.6,48.2L484.7,48.9L484.8,49.6M485.0,51.8L485.1,52.5L485.2,53.2L485.3,53.9L485.4,54.6M485.6,56.8L485.7,57.5L485.7,58.2L485.8,58.9L485.9,59.6M486.1,61.8L486.2,62.5L486.2,63.2L486.3,63.9L486.4,64.6M486.6,66.8L486.6,67.5L486.7,68.2L486.7,68.9L486.8,69.6M487.0,71.9L487.1,72.6L487.1,73.3L487.2,74.0L487.2,74.7M487.4,76.9L487.5,77.6L487.5,78.3L487.6,79.0L487.6,79.7M487.8,81.9L487.9,82.6L487.9,83.3L488.0,84.0L488.0,84.7M488.2,86.9L488.3,87.6L488.3,88.3L488.4,89.0L488.4,89.7M488.6,91.9L488.7,92.6L488.7,93.3L488.8,94.0L488.8,94.7M489.0,96.9L489.1,97.6L489.1,98.3L489.2,99.0L489.2,99.7M489.4,102.0L489.4,102.7L489.5,103.4L489.5,104.1L489.5,104.8M489.7,107.0L489.7,107.7L489.8,108.4L489.8,109.1L489.8,109.8M490.0,112.0L490.0,112.7L490.1,113.4L490.1,114.1L490.2,114.8M490.3,117.0L490.4,117.7L490.4,118.4L490.4,119.1L490.5,119.9M490.6,122.1L490.6,122.8L490.6,123.5L490.7,124.2L490.7,124.9M490.8,127.1L490.9,127.8L491.0,128.5L491.1,129.2L491.2,129.9M491.5,132.1L491.6,132.8L491.8,133.4L491.9,134.1L492.0,134.8M492.6,136.9L492.9,137.6L493.2,138.1L493.8,138.0L494.1,137.5M495.0,135.5L495.3,134.9L495.6,134.3L496.0,133.8L496.6,133.5M497.8,134.9L498.0,135.6L498.2,136.2L498.4,136.9L498.6,137.6M499.1,139.7L499.3,140.4L499.4,141.1L499.5,141.8L499.5,142.5M499.8,144.7L499.9,145.4L499.9,146.1L500.0,146.8L500.1,147.5M500.3,149.7L500.4,150.4L500.5,151.1L500.5,151.8L500.6,152.5M500.8,154.7L500.9,155.4L501.0,156.1L501.1,156.8L501.1,157.5M501.4,159.7L501.5,160.4L501.6,161.1L501.7,161.8L501.8,162.5M502.0,164.6L502.1,165.3L502.2,166.0L502.2,166.7L502.3,167.4M502.5,169.7L502.5,170.4L502.6,171.1L502.6,171.8L502.7,172.5M502.8,174.7L502.9,175.4L502.9,176.1L502.9,176.8L503.0,177.5M503.1,179.7L503.1,180.4L503.2,181.1L503.3,181.8L503.4,182.5M503.8,184.7L504.0,185.3L504.2,186.0L504.4,186.6L504.8,187.2M505.8,185.7L506.0,185.1L506.2,184.4L506.4,183.7L506.5,183.0M507.0,180.9L507.1,180.2L507.3,179.5L507.5,178.9L507.6,178.2M508.4,176.2L508.7,175.6L509.1,175.0L509.4,174.4L509.8,173.9M511.1,174.3L511.3,175.0L511.4,175.7L511.6,176.4L511.7,177.0M512.0,179.2L512.1,179.9L512.2,180.6L512.3,181.3L512.4,182.0M512.7,184.2L512.8,184.9L512.9,185.6L513.0,186.3L513.1,187.0M513.4,189.2L513.5,189.9L513.6,190.6L513.7,191.3L513.7,192.0M514.0,194.2L514.0,194.9L514.1,195.6L514.2,196.3L514.2,197.0M514.4,199.2L514.5,199.9L514.6,200.6L514.6,201.3L514.7,202.0M514.9,204.2L515.0,204.9L515.1,205.6L515.1,206.3L515.2,207.0M515.5,209.2L515.6,209.9L515.7,210.6L515.8,211.2L515.9,211.9M516.2,214.1L516.3,214.8L516.5,215.5L516.6,216.2L516.7,216.9M517.6,218.5L517.9,217.9L518.0,217.2L518.2,216.5L518.3,215.8M518.7,213.6L518.8,213.0L518.9,212.3L519.0,211.6L519.1,210.9M519.5,208.7L519.6,208.0L519.7,207.3L519.8,206.6L520.0,205.9M520.4,203.8L520.5,203.1L520.7,202.4L520.9,201.7L521.1,201.1M521.9,199.1L522.4,198.7L522.9,198.8L523.2,199.4L523.5,200.0M524.0,202.1L524.2,202.8L524.3,203.5L524.5,204.2L524.6,204.8M525.0,207.0L525.1,207.7L525.2,208.4L525.3,209.1L525.4,209.8M525.6,212.0L525.7,212.7L525.7,213.4L525.8,214.1L525.9,214.8M526.1,217.0L526.1,217.7L526.2,218.4L526.3,219.1L526.4,219.8M526.7,222.0L526.8,222.7L526.9,223.4L527.0,224.1L527.1,224.8M527.4,227.0L527.5,227.6L527.6,228.3L527.8,229.0L527.9,229.7M528.2,231.9L528.4,232.6L528.5,233.3L528.6,234.0L528.7,234.6M529.3,236.7L529.8,236.9L530.1,236.3L530.4,235.7L530.5,235.0M531.0,232.8L531.2,232.2L531.3,231.5L531.4,230.8L531.6,230.1M532.0,227.9L532.2,227.3L532.3,226.6L532.4,225.9L532.6,225.2M533.2,223.1L533.4,222.4L533.6,221.8L533.8,221.1L534.1,220.5M535.3,218.9L535.8,218.9L536.2,219.4L536.6,220.0L536.8,220.6M537.5,222.7L537.7,223.4L537.8,224.0L538.0,224.7L538.2,225.4M538.6,227.5L538.8,228.2L538.9,228.9L538.9,229.6L539.0,230.3M539.3,232.5L539.4,233.2L539.4,233.9L539.5,234.6L539.6,235.3M539.8,237.5L539.9,238.2L540.0,238.9L540.0,239.6L540.1,240.3M540.3,242.5L540.4,243.2L540.5,243.9L540.5,244.6L540.6,245.3M540.8,247.5L540.9,248.2L541.0,248.9L541.1,249.6L541.1,250.3M541.4,252.5L541.5,253.2L541.6,253.9L541.7,254.6L541.8,255.3M542.4,257.4L542.9,257.3L543.2,256.7L543.4,256.0L543.6,255.3M544.0,253.2L544.1,252.5L544.3,251.8L544.4,251.1L544.5,250.4M544.9,248.2L545.0,247.6L545.1,246.9L545.3,246.2L545.4,245.5M545.8,243.3L545.9,242.6L546.1,242.0L546.2,241.3L546.4,240.6M546.9,238.5L547.1,237.8L547.3,237.1L547.5,236.5L547.8,235.8M548.9,234.1L549.4,233.9L549.9,234.2L550.3,234.8L550.5,235.4M551.1,237.5L551.3,238.2L551.4,238.9L551.6,239.6L551.7,240.3M552.0,242.5L552.1,243.2L552.2,243.8L552.3,244.5L552.4,245.2M552.7,247.4L552.8,248.1L552.9,248.8L553.0,249.5L553.1,250.2M553.3,252.4L553.4,253.1L553.5,253.8L553.5,254.5L553.6,255.2M553.8,257.4L553.9,258.1L554.0,258.8L554.0,259.5L554.1,260.2M554.3,262.4L554.4,263.1L554.5,263.8L554.6,264.5L554.6,265.2M554.9,267.4L555.0,268.1L555.1,268.8L555.1,269.5L555.2,270.2M555.6,272.4L555.8,273.1L556.0,273.7L556.5,273.5L556.7,272.9M557.2,270.7L557.3,270.0L557.4,269.3L557.5,268.6L557.7,268.0M558.0,265.8L558.1,265.1L558.2,264.4L558.3,263.7L558.4,263.0M558.7,260.8L558.8,260.1L558.9,259.4L559.0,258.7L559.2,258.0M559.5,255.9L559.7,255.2L559.8,254.5L560.0,253.8L560.1,253.1M560.8,251.0L561.0,250.4L561.3,249.8L561.7,249.3L562.2,249.0M563.4,250.6L563.6,251.2L563.8,251.9L564.0,252.6L564.1,253.3M564.6,255.4L564.7,256.1L564.8,256.8L564.9,257.5L565.0,258.2M565.3,260.4L565.4,261.1L565.5,261.8L565.6,262.5L565.7,263.2M566.0,265.4L566.1,266.1L566.1,266.8L566.2,267.5L566.3,268.2M566.5,270.4L566.6,271.0L566.7,271.7L566.8,272.4L566.8,273.1M567.1,275.3L567.2,276.0L567.2,276.7L567.3,277.4L567.4,278.1M567.7,280.3L567.8,281.0L567.9,281.7L568.0,282.4L568.1,283.1M568.6,285.2L569.0,285.6L569.4,285.0L569.6,284.4L569.8,283.7M570.3,281.5L570.4,280.9L570.6,280.2L570.7,279.5L570.8,278.8M571.2,276.6L571.3,275.9L571.4,275.2L571.6,274.6L571.7,273.9M572.1,271.7L572.3,271.0L572.4,270.3L572.6,269.7L572.7,269.0M573.3,266.9L573.5,266.2L573.7,265.5L573.9,264.9L574.2,264.3M575.5,262.7L576.0,262.8L576.4,263.3L576.8,263.9L577.0,264.6M577.6,266.7L577.8,267.3L577.9,268.0L578.0,268.7L578.2,269.4M578.5,271.6L578.6,272.3L578.7,273.0L578.9,273.7L579.0,274.3M579.2,276.5L579.3,277.2L579.4,277.9L579.5,278.6L579.6,279.3M579.9,281.5L579.9,282.2L580.0,282.9L580.1,283.6L580.2,284.3M580.4,286.5L580.5,287.2L580.6,287.9L580.7,288.6L580.8,289.3M581.0,291.5L581.1,292.2L581.2,292.9L581.3,293.6L581.4,294.3M581.8,296.4L582.0,297.1L582.4,297.6L582.9,297.2L583.1,296.5M583.7,294.4L583.9,293.8L584.0,293.1L584.1,292.4L584.3,291.7M584.7,289.5L584.8,288.8L584.9,288.2L585.1,287.5L585.2,286.8M585.6,284.6L585.8,283.9L585.9,283.3L586.1,282.6L586.2,281.9M586.8,279.8L586.9,279.1L587.1,278.4L587.3,277.8L587.6,277.1M588.5,275.2L588.8,274.7L589.3,274.2L589.9,274.1L590.4,274.5M591.3,276.4L591.5,277.0L591.7,277.7L591.8,278.4L592.0,279.1M592.4,281.2L592.6,281.9L592.7,282.6L592.8,283.3L592.9,284.0M593.2,286.2L593.3,286.9L593.4,287.6L593.5,288.3L593.6,289.0M593.9,291.1L594.0,291.8L594.1,292.5L594.2,293.2L594.3,293.9M594.5,296.1L594.6,296.8L594.7,297.5L594.8,298.2L594.9,298.9M595.2,301.1L595.3,301.8L595.4,302.5L595.5,303.2L595.6,303.9M596.1,306.0L596.5,306.5L597.0,306.1L597.2,305.5L597.4,304.8M597.9,302.7L598.1,302.0L598.2,301.3L598.4,300.6L598.5,299.9M598.9,297.8L599.0,297.1L599.1,296.4L599.3,295.7L599.4,295.0M599.8,292.8L600.0,292.2L600.1,291.5L600.3,290.8L600.4,290.1M601.0,288.0L601.1,287.3L601.3,286.6L601.5,286.0L601.8,285.3M602.7,283.4L603.0,282.9L603.5,282.4L604.1,282.3L604.6,282.7M605.4,284.6L605.6,285.3L605.8,286.0L605.9,286.6L606.1,287.3M606.5,289.5L606.6,290.2L606.7,290.9L606.8,291.6L606.9,292.3M607.3,294.4L607.3,295.1L607.4,295.8L607.5,296.5L607.6,297.2M607.9,299.4L608.0,300.1L608.0,300.8L608.1,301.5L608.2,302.2M608.4,304.4L608.5,305.1L608.6,305.8L608.7,306.5L608.8,307.2M609.0,309.4L609.1,310.1L609.2,310.8L609.3,311.5L609.4,312.2M609.7,314.4L609.8,315.1L609.9,315.8L610.1,316.5L610.3,317.1M611.4,316.4L611.6,315.8L611.8,315.1L611.9,314.4L612.1,313.8M612.5,311.6L612.7,310.9L612.8,310.2L612.9,309.5L613.1,308.9M613.5,306.7L613.6,306.0L613.7,305.3L613.9,304.6L614.0,303.9M614.4,301.8L614.6,301.1L614.7,300.4L614.9,299.7L615.0,299.1M615.6,296.9L615.8,296.3L616.0,295.6L616.2,295.0L616.4,294.3M617.3,292.4L617.7,291.8L618.2,291.4L618.7,291.2L619.3,291.4M620.4,293.1L620.7,293.7L620.9,294.4L621.1,295.0L621.3,295.7M621.9,297.8L622.0,298.5L622.2,299.2L622.3,299.9L622.4,300.6M622.9,302.7L623.0,303.4L623.1,304.1L623.2,304.8L623.3,305.5M623.7,307.7L623.8,308.4L623.9,309.1L624.0,309.7L624.1,310.4M624.4,312.6L624.5,313.3L624.6,314.0L624.7,314.7L624.8,315.4M625.1,317.6L625.2,318.3L625.4,319.0L625.5,319.7L625.6,320.4M626.0,322.5L626.1,323.2L626.3,323.9L626.5,324.5L626.8,325.1M627.9,323.8L628.1,323.2L628.3,322.5L628.4,321.8L628.6,321.1M629.0,319.0L629.1,318.3L629.2,317.6L629.4,316.9L629.5,316.2M629.9,314.0L630.0,313.3L630.1,312.7L630.3,312.0L630.4,311.3M630.9,309.1L631.0,308.4L631.2,307.8L631.3,307.1L631.5,306.4M632.1,304.3L632.4,303.7L632.6,303.1L632.9,302.4L633.2,301.9M634.8,301.1L635.3,301.5L635.7,302.0L636.0,302.6L636.3,303.2M637.1,305.3L637.3,305.9L637.5,306.6L637.6,307.3L637.8,307.9M638.3,310.1L638.4,310.8L638.6,311.4L638.7,312.1L638.8,312.8M639.2,315.0L639.4,315.7L639.5,316.4L639.6,317.1L639.7,317.8M640.1,319.9L640.2,320.6L640.3,321.3L640.4,322.0L640.5,322.7M640.8,324.9L640.9,325.6L641.1,326.3L641.2,327.0L641.3,327.7M641.6,329.8L641.8,330.5L641.9,331.2L642.0,331.9L642.2,332.6M642.7,334.7L642.9,335.3L643.3,335.9L643.8,335.8L644.2,335.2M644.8,333.2L645.0,332.5L645.1,331.8L645.3,331.1L645.4,330.4M645.8,328.3L646.0,327.6L646.1,326.9L646.2,326.2L646.4,325.5M646.8,323.4L646.9,322.7L647.1,322.0L647.2,321.3L647.4,320.6M647.9,318.5L648.0,317.8L648.2,317.2L648.4,316.5L648.6,315.8M649.2,313.8L649.5,313.1L649.8,312.5L650.1,311.9L650.4,311.3M652.0,310.3L652.5,310.6L653.0,311.0L653.4,311.5L653.7,312.1M654.5,314.1L654.8,314.7L655.0,315.4L655.2,316.0L655.4,316.7M655.9,318.8L656.1,319.5L656.2,320.2L656.4,320.9L656.6,321.6M657.0,323.7L657.1,324.4L657.3,325.1L657.4,325.8L657.6,326.4M658.0,328.6L658.1,329.3L658.2,330.0L658.4,330.7L658.5,331.3M659.0,333.5L659.2,334.2L659.3,334.8L659.5,335.5L659.8,336.1M661.1,336.5L661.4,335.9L661.7,335.2L661.9,334.6L662.1,333.9M662.7,331.8L662.8,331.1L663.0,330.5L663.2,329.8L663.3,329.1M663.8,327.0L664.0,326.3L664.2,325.6L664.3,324.9L664.5,324.3M665.1,322.1L665.2,321.5L665.4,320.8L665.6,320.1L665.8,319.5M666.5,317.4L666.8,316.8L667.1,316.2L667.4,315.6L667.7,315.0M668.9,313.3L669.4,313.0L670.0,312.9L670.6,313.1L671.1,313.4M672.2,315.2L672.5,315.8L672.7,316.4L673.0,317.1L673.2,317.7M673.8,319.8L674.0,320.5L674.2,321.2L674.4,321.8L674.5,322.5M675.0,324.7L675.2,325.3L675.3,326.0L675.4,326.7L675.6,327.4M676.0,329.6L676.1,330.2L676.2,330.9L676.4,331.6L676.5,332.3M676.9,334.5L677.0,335.2L677.1,335.9L677.3,336.5L677.4,337.2M677.8,339.4L677.9,340.1L678.1,340.8L678.2,341.5L678.4,342.1M678.9,344.2L679.2,344.9L679.4,345.5L679.9,346.0L680.4,345.8M681.4,344.0L681.7,343.3L681.9,342.7L682.1,342.0L682.3,341.3M682.9,339.2L683.1,338.6L683.2,337.9L683.4,337.2L683.6,336.5M684.2,334.5L684.4,333.8L684.6,333.1L684.8,332.5L685.1,331.8M685.8,329.8L686.1,329.2L686.4,328.5L686.7,327.9L687.0,327.3M688.2,325.7L688.7,325.3L689.2,325.1L689.8,325.0L690.4,325.2M691.9,326.5L692.2,327.0L692.6,327.6L692.9,328.2L693.2,328.8M694.0,330.8L694.2,331.5L694.4,332.1L694.6,332.8L694.8,333.5M695.4,335.6L695.6,336.2L695.8,336.9L696.0,337.6L696.1,338.2M696.7,340.4L696.8,341.1L697.0,341.7L697.1,342.4L697.3,343.1M697.8,345.2L697.9,345.9L698.1,346.6L698.2,347.3L698.4,348.0M698.9,350.1L699.0,350.8L699.2,351.4L699.4,352.1L699.6,352.8M700.3,354.9L700.5,355.5L700.9,356.1L701.3,356.5L701.9,356.4M703.1,354.8L703.5,354.2L703.7,353.6L704.0,352.9L704.3,352.3M705.1,350.3L705.3,349.7L705.6,349.0L705.8,348.4L706.1,347.8M707.0,345.8L707.3,345.2L707.6,344.6L707.9,344.0L708.2,343.5M709.5,341.8L709.9,341.3L710.4,340.9L710.9,340.6L711.5,340.3M713.3,340.4L713.8,340.7L714.3,341.1L714.7,341.6L715.2,342.1M716.3,343.8L716.6,344.4L716.9,345.0L717.2,345.6L717.5,346.2M718.3,348.2L718.5,348.9L718.7,349.5L718.9,350.2L719.2,350.9M719.8,352.9L720.0,353.6L720.2,354.3L720.4,354.9L720.6,355.6M721.2,357.7L721.4,358.4L721.6,359.0L721.7,359.7L721.9,360.4M722.5,362.5L722.7,363.1L722.9,363.8L723.1,364.5L723.3,365.1M724.0,367.2L724.3,367.8L724.6,368.4L724.9,369.0L725.4,369.5M727.0,369.1L727.4,368.6L727.8,368.0L728.1,367.5L728.5,366.9M729.4,364.9L729.7,364.3L729.9,363.7L730.2,363.1L730.5,362.5M731.4,360.5L731.7,359.9L732.0,359.3L732.3,358.7L732.6,358.1M733.6,356.2L734.0,355.7L734.3,355.1L734.7,354.6L735.1,354.1M736.5,352.7L737.0,352.3L737.6,352.0L738.1,351.7L738.7,351.6M740.5,351.6L741.1,351.8L741.6,352.1L742.2,352.4L742.7,352.7M744.1,354.1L744.6,354.6L745.0,355.1L745.4,355.6L745.8,356.1M746.9,357.9L747.2,358.5L747.5,359.1L747.8,359.7L748.2,360.3M749.1,362.2L749.4,362.8L749.6,363.4L749.9,364.0L750.2,364.7M751.0,366.7L751.2,367.3L751.5,368.0L751.7,368.6L751.9,369.2M752.7,371.3L752.9,371.9L753.2,372.6L753.4,373.2L753.6,373.9M754.3,375.9L754.6,376.6L754.8,377.2L755.1,377.8L755.3,378.5M756.1,380.5L756.3,381.1L756.6,381.8L756.9,382.4L757.1,383.0M758.2,384.9L758.5,385.4L759.0,385.9L759.4,386.3L760.0,386.6M761.8,386.2L762.3,385.9L762.8,385.5L763.3,385.2L763.8,384.8M765.3,383.4L765.8,383.0L766.2,382.6L766.7,382.2L767.2,381.9M768.8,380.8L769.4,380.5L769.9,380.2L770.5,380.0L771.0,379.8M772.9,379.4L773.4,379.3L774.0,379.3L774.6,379.3L775.2,379.4M777.0,379.9L777.5,380.2L778.1,380.5L778.6,380.8L779.1,381.1M780.7,382.3L781.2,382.7L781.7,383.1L782.1,383.5L782.6,383.9M784.1,385.3L784.5,385.7L785.0,386.2L785.4,386.7L785.8,387.2M786.9,389.0L787.2,389.6L787.5,390.2L787.8,390.8L788.1,391.4M789.1,393.3L789.4,393.9L789.6,394.5L789.9,395.1L790.2,395.8M791.2,397.7L791.5,398.3L791.7,398.9L792.0,399.5L792.3,400.1M793.2,402.1L793.4,402.7L793.7,403.4L794.0,404.0L794.2,404.6M795.1,406.6L795.3,407.2L795.6,407.8L795.9,408.5L796.1,409.1M797.0,411.1L797.2,411.7L797.5,412.3L797.8,413.0L798.0,413.6M798.8,415.6L799.1,416.2L799.4,416.9L799.6,417.5L799.9,418.1M800.7,420.1L801.0,420.7L801.3,421.4L801.5,422.0L801.8,422.6M802.7,424.5L803.0,425.1L803.3,425.7L803.6,426.3L803.9,427.0M804.8,428.9L805.1,429.5L805.4,430.1L805.7,430.7L805.9,431.4M806.7,433.4L807.0,434.0L807.2,434.7L807.4,435.3L807.7,436.0M808.4,438.0L808.6,438.7L808.8,439.3L809.0,440.0L809.3,440.6M809.9,442.7L810.2,443.4L810.4,444.0L810.6,444.7L810.8,445.3M811.5,447.4L811.7,448.0L811.9,448.7L812.2,449.3L812.4,450.0M813.1,452.0L813.3,452.7L813.5,453.3L813.8,454.0L814.0,454.7M814.7,456.7L814.9,457.4L815.1,458.0L815.3,458.7L815.5,459.3M816.2,461.4L816.4,462.1L816.7,462.7L816.9,463.4L817.1,464.0M817.7,466.1L817.9,466.8L818.2,467.4L818.4,468.1L818.6,468.7M819.2,470.8L819.4,471.5L819.6,472.1L819.8,472.8L820.0,473.5M820.7,475.5L820.9,476.2L821.1,476.9L821.3,477.5L821.5,478.2M822.1,480.3L822.3,480.9L822.5,481.6L822.7,482.3L822.9,482.9M823.5,485.0L823.8,485.7L824.0,486.3L824.2,487.0L824.4,487.7M825.0,489.7L825.2,490.4L825.4,491.1L825.6,491.7L825.8,492.4M826.5,494.5L826.7,495.1L826.9,495.8L827.1,496.5L827.3,497.1M827.9,499.2L828.1,499.9L828.3,500.5L828.5,501.2L828.7,501.8M829.3,503.9L829.4,504.1" fill="none" stroke="#d81e10" stroke-width="4.2"/>
<g class="tk"><text transform="translate(130.4,598.6) scale(1,1.03)" text-anchor="middle">-90</text><text transform="translate(243.4,598.6) scale(1,1.03)" text-anchor="middle">-60</text><text transform="translate(360.4,598.6) scale(1,1.03)" text-anchor="middle">-30</text><text transform="translate(478.6,598.6) scale(1,1.03)" text-anchor="middle">0</text><text transform="translate(597.1,598.6) scale(1,1.03)" text-anchor="middle">30</text><text transform="translate(712.1,598.6) scale(1,1.03)" text-anchor="middle">60</text><text transform="translate(830.2,598.6) scale(1,1.03)" text-anchor="middle">90</text><text transform="translate(106.5,49.5) scale(1,1.03)" text-anchor="end">0</text><text transform="translate(106.3,218.9) scale(1,1.03)" text-anchor="end">-20</text><text transform="translate(106.3,389.4) scale(1,1.03)" text-anchor="end">-40</text><text transform="translate(100.2,566.6) scale(1,1.03)" text-anchor="end">-60</text></g>
<path d="M641.3,91.9H683.4" stroke="#4055b1" stroke-width="2.9" fill="none"/>
<path d="M641.9,124.8H683.8" stroke="#d81e10" stroke-width="3.5" stroke-dasharray="3.6 3.9" fill="none"/>
<text x="696" y="102.8" style="font-size:30.5px;fill:#4055b1;stroke:#4055b1;stroke-width:0.25px">2D</text>
<text x="696.9" y="137.0" style="font-size:30.5px;fill:#d81e10;stroke:#d81e10;stroke-width:0.25px">3D</text>
<text x="426.1" y="630.6" style="font-size:30px;stroke:#231815;stroke-width:0.3px" xml:space="preserve">(degree)</text>
<text x="392.6" y="630.8" style="font-size:42.5px;font-family:'Liberation Serif',serif;stroke:#231815;stroke-width:0.2">&#966;</text>
<text class="ttl" transform="translate(23.5,597.8) rotate(-90)" xml:space="preserve">Normalized far field radiation pattern  (dB)</text>
</svg>
</body></html>
